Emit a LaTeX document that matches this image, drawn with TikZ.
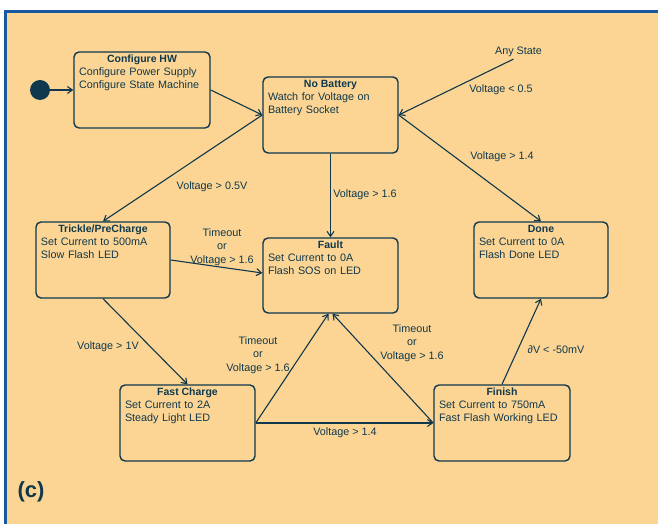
\documentclass[tikz,border=0pt]{standalone}
\usepackage{fontspec}
\setmainfont{Liberation Sans}
\usetikzlibrary{arrows.meta}

\definecolor{paper}{RGB}{252,213,149}
\definecolor{ink}{RGB}{15,56,76}
\definecolor{frameblue}{RGB}{24,88,158}

\tikzset{
  statebox/.style={draw=ink, line width=1.4bp, rounded corners=5bp, inner sep=0pt},
  statetitle/.style={font=\fontsize{10.5bp}{12bp}\selectfont\bfseries, text=ink,
    inner sep=0pt, anchor=base},
  statebody/.style={font=\fontsize{10.8bp}{13.3bp}\selectfont, text=ink,
    inner sep=0pt, anchor=base west, align=left},
  trans/.style={draw=ink, line width=1.1bp, -{Straight Barb[length=5bp,width=7bp]}},
  lbl/.style={font=\fontsize{10.8bp}{13.5bp}\selectfont, text=ink, inner sep=0pt, align=center},
}

% #1 name, #2..#5 corners (left, top, right, bottom), #6 title, #7 activities
\newcommand\umlstate[7]{%
  \node[statebox, minimum width={#4bp-#2bp}, minimum height={#5bp-#3bp}]
    (#1) at ({(#2+#4)/2},{(#3+#5)/2}) {};
  \node[statetitle] (#1-t) at ([yshift=-11bp]#1.north) {#6};
  \node[statebody, text width={#4bp-#2bp-9bp}] (#1-b)
    at ([xshift=5.5bp,yshift=-23.8bp]#1.north west) {#7};
}

\begin{document}
\begin{tikzpicture}[x=1bp,y=-1bp]
  \useasboundingbox (0,0) rectangle (658,524);
  \fill[white] (0,0) rectangle (658,524);
  \fill[paper] (5.5,11.3) rectangle (658,524);
  \draw[frameblue, line width=2.6bp] (5.5,524) -- (5.5,11.3) -- (658,11.3);

  % initial pseudo-state
  \node[circle, fill=ink, minimum size=20bp, inner sep=0pt] (init) at (40,90) {};

  % states
  \umlstate{cfg}{74}{52}{210}{128}{Configure HW}{Configure Power Supply\\Configure State Machine}
  \umlstate{nob}{263}{77}{398}{153}{No Battery}{Watch for Voltage on\\Battery Socket}
  \umlstate{trk}{36}{222}{170}{298}{Trickle/PreCharge}{Set Current to 500mA\\Slow Flash LED}
  \umlstate{flt}{263}{238}{398}{313}{Fault}{Set Current to 0A\\Flash SOS on LED}
  \umlstate{don}{474}{222}{608}{298}{Done}{Set Current to 0A\\Flash Done LED}
  \umlstate{fst}{120}{385}{255}{461}{Fast Charge}{Set Current to 2A\\Steady Light LED}
  \umlstate{fin}{434}{385}{570}{461}{Finish}{Set Current to 750mA\\Fast Flash Working LED}

  \node[lbl] (anys) at (518.5,52) {Any State};

  % transitions
  \draw[trans] (init) -- (cfg.west);
  \draw[trans] (cfg.east) -- (nob.west);
  \draw[trans] (nob.west) -- (trk.north);
  \draw[trans] ([xshift=-5bp,yshift=-2bp]anys.south) -- (nob.east);
  \draw[trans] (nob.east) -- (don.north);
  \draw[trans] (nob.south) -- (flt.north);
  \draw[trans] (trk.east) -- ([yshift=2.5bp]flt.west);
  \draw[trans] (trk.south) -- (fst.north);
  \draw[trans] (fst.east) -- ([xshift=-2bp]flt.south);
  \draw[trans] (fst.east) -- (fin.west);
  \draw[trans] (fin.west) -- ([xshift=2bp]flt.south);
  \draw[trans] (fin.north) -- (don.south);

  % guards
  \node[lbl] (g1) at (212,187) {Voltage > 0.5V};
  \node[lbl] (g2) at (501,90) {Voltage < 0.5};
  \node[lbl] (g3) at (502,157) {Voltage > 1.4};
  \node[lbl] (g4) at (365,195) {Voltage > 1.6};
  \node[lbl] (g5) at (222,247) {Timeout\\or\\Voltage > 1.6};
  \node[lbl] (g6) at (108,347) {Voltage > 1V};
  \node[lbl] (g7) at (258,355) {Timeout\\or\\Voltage > 1.6};
  \node[lbl] (g8) at (345,433) {Voltage > 1.4};
  \node[lbl] (g9) at (412,343) {Timeout\\or\\Voltage > 1.6};
  \node[lbl] (g10) at (556,350) {∂V < -50mV};

  \node[font=\fontsize{22bp}{26bp}\selectfont\bfseries, text=ink, inner sep=0pt] (tag) at (31,492) {(c)};
\end{tikzpicture}
\end{document}
